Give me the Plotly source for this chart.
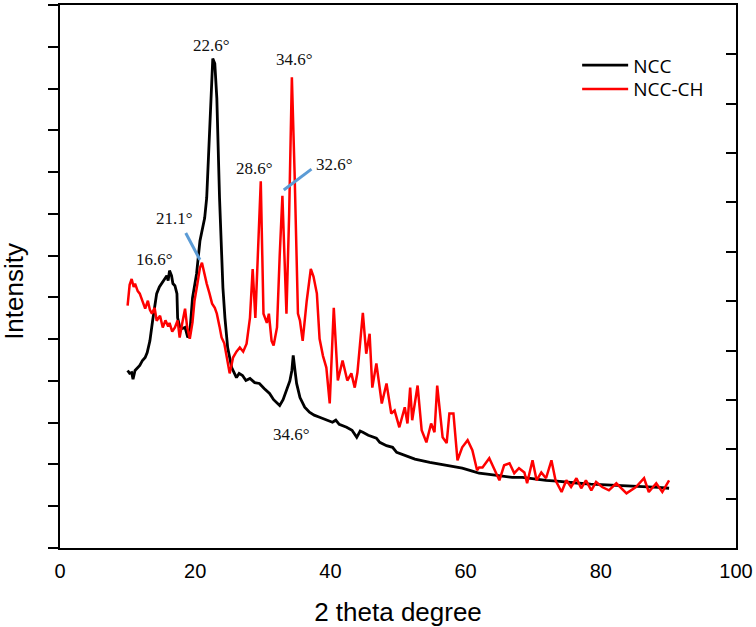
import plotly.graph_objects as go

# ---- data (2θ in degrees, intensity in arbitrary units) ----
ncc_x = [10.0, 10.3, 10.6, 10.8, 11.1, 11.5, 11.8, 12.2, 12.6, 12.9, 13.3, 13.7, 14.0, 14.3, 14.7,
         15.1, 15.5, 15.8, 16.0, 16.2, 16.5, 16.7, 17.0, 17.3, 17.4, 17.7, 18.0, 18.5, 18.9, 19.2,
         19.6, 20.2, 20.7, 21.1, 21.4, 21.7, 21.9, 22.2, 22.5, 22.6, 22.9, 23.2, 23.6, 24.1, 24.4,
         24.8, 25.4, 26.1, 26.5, 27.0, 27.5, 28.1, 28.8, 29.5, 30.2, 31.0, 31.6, 32.1, 32.5, 33.0,
         33.5, 34.0, 34.3, 34.5, 34.8, 35.0, 35.5, 36.2, 36.9, 37.6, 38.4, 39.2, 40.3, 40.8, 41.3,
         42.4, 43.2, 43.9, 44.4, 44.8, 45.6, 46.8, 47.3, 48.3, 49.2, 49.8, 51.0, 52.5, 54.7, 56.5,
         58.0, 59.5, 61.0, 62.0, 63.2, 64.5, 66.0, 66.9, 68.4, 70.0, 71.9, 73.5, 75.0, 76.8, 78.5,
         80.0, 81.7, 83.5, 85.0, 86.7, 88.5, 90.1]
ncc_y = [425, 418, 420, 404, 425, 432, 437, 449, 456, 468, 496, 544, 580, 609, 625,
         635, 644, 652, 640, 664, 652, 633, 628, 609, 551, 530, 525, 528, 504, 513,
         599, 656, 735, 766, 790, 838, 919, 1038, 1165, 1172, 1160, 1077, 838, 623, 551,
         480, 432, 408, 418, 413, 401, 406, 396, 394, 382, 370, 355, 346, 341, 355,
         377, 400, 425, 461, 420, 394, 360, 337, 325, 318, 313, 308, 301, 306, 296,
         289, 282, 265, 280, 277, 270, 263, 253, 245, 241, 229, 222, 213, 205, 200,
         195, 191, 184, 179, 177, 174, 171, 169, 169, 165, 162, 160, 157, 155, 153,
         152, 150, 148, 147, 146, 145, 143]

nccch_x = [10.0, 10.3, 10.6, 10.9, 11.1, 11.5, 11.8, 12.2, 12.6, 13.0, 13.3, 13.6, 14.0, 14.3, 14.8,
           15.2, 15.6, 16.0, 16.2, 16.6, 17.0, 17.4, 17.7, 18.1, 18.5, 18.8, 19.2, 19.6, 19.9, 20.3,
           20.7, 21.0, 21.3, 21.7, 22.1, 22.5, 22.9, 23.2, 23.6, 23.9, 24.3, 24.7, 25.1, 25.4, 25.6,
           26.1, 26.6, 27.1, 27.6, 28.1, 28.5, 28.9, 29.3, 29.7, 30.1, 30.6, 30.9, 31.3, 31.6, 32.1,
           32.5, 32.9, 33.2, 33.5, 33.9, 34.3, 34.7, 35.2, 35.5, 35.9, 36.5, 37.1, 37.5, 38.0, 38.4,
           38.9, 39.4, 39.9, 40.5, 41.1, 41.8, 42.5, 43.1, 43.6, 44.0, 44.8, 45.3, 45.8, 46.2, 46.8,
           47.6, 48.3, 49.0, 49.5, 50.2, 51.0, 51.4, 51.8, 52.1, 52.9, 53.5, 54.2, 54.9, 55.4, 55.8,
           56.6, 57.2, 57.6, 58.2, 58.8, 59.5, 60.3, 61.0, 61.7, 62.0, 62.5, 63.5, 64.3, 65.0, 65.7,
           66.5, 67.2, 67.9, 68.7, 69.1, 69.9, 70.5, 71.2, 71.9, 72.7, 73.3, 74.2, 74.9, 75.6, 76.4,
           77.1, 77.8, 78.6, 79.3, 80.2, 81.2, 82.3, 83.8, 85.2, 86.4, 87.1, 88.2, 89.1, 90.1]
nccch_y = [580, 630, 644, 625, 633, 615, 609, 590, 573, 592, 570, 561, 575, 544, 556,
           528, 545, 530, 539, 518, 528, 545, 504, 540, 573, 530, 501, 540, 592, 630,
           671, 683, 660, 633, 610, 585, 575, 561, 530, 504, 490, 456, 418, 440, 456,
           470, 480, 470, 489, 551, 668, 551, 700, 878, 561, 539, 561, 496, 485, 528,
           700, 843, 700, 561, 800, 1127, 900, 561, 544, 496, 592, 668, 650, 609, 501,
           460, 432, 346, 575, 401, 449, 401, 418, 384, 420, 563, 465, 513, 384, 442,
           346, 394, 322, 329, 289, 337, 298, 384, 306, 389, 282, 253, 298, 277, 389,
           265, 251, 322, 322, 210, 241, 258, 234, 186, 193, 193, 215, 186, 162, 198,
           203, 179, 191, 181, 155, 210, 162, 181, 167, 210, 162, 134, 162, 146, 167,
           143, 162, 138, 158, 146, 138, 155, 131, 146, 167, 134, 155, 134, 162]

x_ticks = [0, 20, 40, 60, 80, 100]

# peak labels: (text, 2θ, intensity)
peak_labels = [("22.6°", 22.4, 1203), ("34.6°", 34.7, 1170), ("28.6°", 28.7, 909),
               ("32.6°", 40.6, 917), ("21.1°", 17.0, 788), ("16.6°", 14.0, 690),
               ("34.6°", 34.3, 272)]
# leader lines: (x0, y0, x1, y1)
leader_lines = [(18.6, 754, 20.7, 690), (33.1, 857, 37.2, 907)]

fig = go.Figure()
fig.add_trace(go.Scatter(x=ncc_x, y=ncc_y, mode="lines", name="NCC", legend="legend",
                         line=dict(color="black", width=2.8)))
fig.add_trace(go.Scatter(x=nccch_x, y=nccch_y, mode="lines", name="NCC-CH", legend="legend2",
                         line=dict(color="#ff0000", width=2.5)))
fig.add_trace(go.Scatter(x=[], y=[], yaxis="y2", showlegend=False, hoverinfo="skip"))

for (x0, y0, x1, y1) in leader_lines:
    fig.add_shape(type="line", xref="x", yref="y", x0=x0, y0=y0, x1=x1, y1=y1,
                  line=dict(color="#5B9BD5", width=3))

for (t, x, y) in peak_labels:
    fig.add_annotation(x=x, y=y, text=t, showarrow=False, xref="x", yref="y",
                       font=dict(family="Liberation Serif", size=17, color="#111"))

# y-axis title placed as rotated text left of the axis
fig.add_annotation(text="Intensity", xref="paper", yref="paper", x=-0.0685, y=0.473,
                   textangle=-90, showarrow=False, xanchor="center", yanchor="middle",
                   font=dict(family="Liberation Sans", size=26, color="black"))

legend_style = dict(xanchor="left", yanchor="middle", bgcolor="rgba(0,0,0,0)",
                    font=dict(family="Open Sans", size=19), itemwidth=46)

fig.update_layout(
    width=756, height=627,
    margin=dict(l=60, r=19, t=3, b=79),
    plot_bgcolor="white", paper_bgcolor="white",
    font=dict(family="Liberation Sans", color="black"),
    xaxis=dict(range=[0, 100], tickvals=x_ticks, showline=True, linecolor="black",
               linewidth=2, mirror=True, ticks="", showgrid=False, zeroline=False,
               ticklabelstandoff=4,
               tickfont=dict(size=20, family="Liberation Sans"),
               title=dict(text="2 theta degree", font=dict(size=26, family="Liberation Sans"),
                          standoff=22)),
    yaxis=dict(range=[0, 1300], dtick=100, tick0=0, ticks="outside", ticklen=10, tickwidth=2,
               tickcolor="black", showticklabels=False, showline=True, linecolor="black",
               linewidth=2, showgrid=False, zeroline=False),
    yaxis2=dict(range=[0, 1100], dtick=100, tick0=0, overlaying="y", side="right",
                ticks="inside", ticklen=10, tickwidth=2, tickcolor="black",
                showticklabels=False, showline=True, linecolor="black", linewidth=2,
                showgrid=False, zeroline=False),
    legend=dict(x=0.765, y=0.889, **legend_style),
    legend2=dict(x=0.765, y=0.845, **legend_style),
    showlegend=True,
)

fig.write_html("out.html", config={"displayModeBar": False},
               post_script="document.body.style.margin='0px';")
